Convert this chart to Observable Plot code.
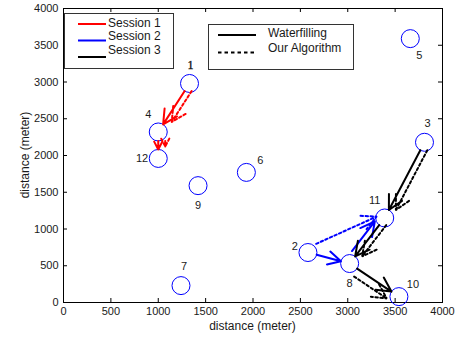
<!DOCTYPE html>
<html><head><meta charset="utf-8">
<script src="https://cdn.jsdelivr.net/npm/d3@7"></script>
<script src="https://cdn.jsdelivr.net/npm/@observablehq/plot@0.6"></script>
<style>body{margin:0;background:#fff} #chart{position:relative;width:460px;height:339px}</style>
</head><body><div id="chart"></div>
<script>
// ---- data ----
const nodeIds = [1, 2, 3, 4, 5, 6, 7, 8, 9, 10, 11, 12];
const nodeX   = [1330, 2580, 3810, 1000, 3660, 1930, 1240, 3020, 1420, 3540, 3390, 1000];
const nodeY   = [2980, 680, 2180, 2320, 3590, 1770, 230, 530, 1590, 80, 1150, 1960];
const xTicks = [0, 500, 1000, 1500, 2000, 2500, 3000, 3500, 4000];
const yTicks = [0, 500, 1000, 1500, 2000, 2500, 3000, 3500, 4000];
const sessionNames = ["Session 1", "Session 2", "Session 3"];
const methodNames = ["Waterfilling", "Our Algorithm"];
const xLabel = "distance (meter)";
const yLabel = "distance (meter)";
// routes (from node, to node)
const s1Water = [[1, 4], [4, 12]];
const s1Ours  = [[1, 4], [4, 12]];
const s2Water = [[2, 8], [8, 11]];
const s2Ours  = [[2, 11]];
const s3Water = [[3, 11], [11, 8], [8, 10]];
const s3Ours  = [[3, 11], [11, 8], [8, 10]];
// node label placement groups
const labelSerifAbove = [1];
const labelAbove = [3, 7];
const labelUpperLeft = [4, 11];
const labelLeft = [12];
const labelLeftHigh = [2];
const labelBelow = [8, 9];
const labelLowerRight = [5];
const labelUpperRight = [6, 10];

// ---- derived ----
const nodes = nodeIds.map((id, i) => ({id, x: nodeX[i], y: nodeY[i]}));
const byId = new Map(nodes.map(n => [n.id, n]));
const seg = route => route.map(([a, b]) => ({x1: byId.get(a).x, y1: byId.get(a).y, x2: byId.get(b).x, y2: byId.get(b).y, a, b}));
const pick = ids => ids.map(id => byId.get(id));

const W = 460, H = 339, mL = 63, mR = 18, mT = 8, mB = 37;
const pw = W - mL - mR, ph = H - mT - mB;
const RED = "#ff0000", BLUE = "#0000ff", BLACK = "#000000";
const FONT = "'Liberation Sans', Arial, Helvetica, sans-serif";
const dash = "2.5,2.5";
const arrowBase = {x1: "x1", y1: "y1", x2: "x2", y2: "y2", strokeWidth: 2, headLength: 12, headAngle: 55, insetStart: 9, insetEnd: 9};

const lbl = (ids, opts) => Plot.text(pick(ids), {x: "x", y: "y", text: d => String(d.id), fontSize: 11, fill: "#1a1a1a", stroke: "none", ...opts});

const chart = Plot.plot({
  width: W, height: H,
  marginLeft: mL, marginRight: mR, marginTop: mT, marginBottom: mB,
  style: {fontFamily: FONT, fontSize: "11px", background: "#fff", overflow: "visible", color: "#000"},
  x: {domain: [0, 4000]},
  y: {domain: [0, 4000]},
  marks: [
    Plot.frame({stroke: "#000", strokeWidth: 1}),
    Plot.tickX(xTicks, {x: d => d, insetTop: ph - 4, stroke: "#000"}),
    Plot.tickX(xTicks, {x: d => d, insetBottom: ph - 4, stroke: "#000"}),
    Plot.tickY(yTicks, {y: d => d, insetRight: pw - 4, stroke: "#000"}),
    Plot.tickY(yTicks, {y: d => d, insetLeft: pw - 4, stroke: "#000"}),
    Plot.axisX(xTicks, {tickSize: 0, tickPadding: 5, fontSize: 11, tickFormat: d3.format("d"), label: null, color: "#1a1a1a"}),
    Plot.axisY(yTicks, {tickSize: 0, tickPadding: 5, fontSize: 11, tickFormat: d3.format("d"), label: null, color: "#1a1a1a"}),
    // nodes
    Plot.dot(nodes, {x: "x", y: "y", r: 9, stroke: BLUE, strokeWidth: 1, fill: "none"}),
    // session 1
    Plot.arrow(seg(s1Water), {...arrowBase, stroke: RED}),
    Plot.arrow(seg(s1Ours), {...arrowBase, stroke: RED, strokeDasharray: dash, dx: 7, insetEnd: 12}),
    // session 2
    Plot.arrow(seg(s2Water).filter(d => d.a === 2), {...arrowBase, stroke: BLUE}),
    Plot.arrow(seg(s2Water).filter(d => d.a === 8), {...arrowBase, stroke: BLUE, dx: -5, dy: -3, insetStart: 12, insetEnd: 8}),
    Plot.arrow(seg(s2Ours), {...arrowBase, stroke: BLUE, strokeDasharray: dash, dy: -5}),
    // session 3
    Plot.arrow(seg(s3Water), {...arrowBase, stroke: BLACK}),
    Plot.arrow(seg(s3Ours).filter(d => d.a !== 8), {...arrowBase, stroke: BLACK, strokeDasharray: dash, dx: 7}),
    Plot.arrow(seg(s3Ours).filter(d => d.a === 8), {...arrowBase, stroke: BLACK, strokeDasharray: dash, dx: -3, dy: 8, insetEnd: 11}),
    // labels
    lbl(labelSerifAbove, {dx: 1, dy: -18, fontFamily: "'Liberation Serif', 'DejaVu Serif', serif", fontSize: 12, fill: "#111", stroke: "#111", strokeWidth: 0.35}),
    lbl(labelAbove, {dx: 3, dy: -19}),
    lbl(labelUpperLeft, {dx: -10, dy: -18}),
    lbl(labelLeft, {dx: -10, dy: 0, textAnchor: "end"}),
    lbl(labelLeftHigh, {dx: -10, dy: -6, textAnchor: "end"}),
    lbl(labelBelow, {dx: 0, dy: 20}),
    lbl(labelLowerRight, {dx: 9, dy: 17}),
    lbl(labelUpperRight, {dx: 14, dy: -12})
  ]
});
document.getElementById("chart").appendChild(chart);

// ---- axis titles and legends (pixel space, on top of the plot) ----
const svg = d3.select(chart.tagName.toLowerCase() === "svg" ? chart : chart.querySelector("svg"));
const lg = svg.append("g").attr("font-family", FONT).attr("font-size", 12).attr("text-anchor", "start");
lg.append("text").attr("x", mL + pw / 2).attr("y", 326).attr("dy", "0.35em").attr("text-anchor", "middle").attr("fill", "#1a1a1a").text(xLabel);
lg.append("text").attr("transform", `translate(25,${mT + ph / 2}) rotate(-90)`).attr("dy", "0.35em").attr("text-anchor", "middle").attr("fill", "#1a1a1a").text(yLabel);
// legend 1: sessions
const L1 = {x: 64.5, y: 13.5, w: 109, h: 55};
lg.append("rect").attr("x", L1.x).attr("y", L1.y).attr("width", L1.w).attr("height", L1.h)
  .attr("fill", "#fff").attr("stroke", "#333").attr("stroke-width", 1);
const sColors = [RED, BLUE, BLACK];
const lineYs = [24, 40.5, 57], textYs = [23, 35.5, 50];
sessionNames.forEach((name, i) => {
  lg.append("line").attr("x1", 78).attr("x2", 106).attr("y1", lineYs[i]).attr("y2", lineYs[i])
    .attr("stroke", sColors[i]).attr("stroke-width", 2);
  lg.append("text").attr("x", 108).attr("y", textYs[i]).attr("dy", "0.35em").attr("text-anchor", "start").attr("fill", "#1a1a1a").text(name);
});
// legend 2: methods
const L2 = {x: 208.5, y: 24.5, w: 145, h: 45};
lg.append("rect").attr("x", L2.x).attr("y", L2.y).attr("width", L2.w).attr("height", L2.h)
  .attr("fill", "#fff").attr("stroke", "#333").attr("stroke-width", 1);
const mLineYs = [35, 52.5], mTextYs = [33, 48];
methodNames.forEach((name, i) => {
  lg.append("line").attr("x1", 218).attr("x2", 256).attr("y1", mLineYs[i]).attr("y2", mLineYs[i])
    .attr("stroke", "#000").attr("stroke-width", 2).attr("stroke-dasharray", i ? "3.5,3" : null);
  lg.append("text").attr("x", 268).attr("y", mTextYs[i]).attr("dy", "0.35em").attr("text-anchor", "start").attr("fill", "#1a1a1a").text(name);
});
</script>
</body></html>
